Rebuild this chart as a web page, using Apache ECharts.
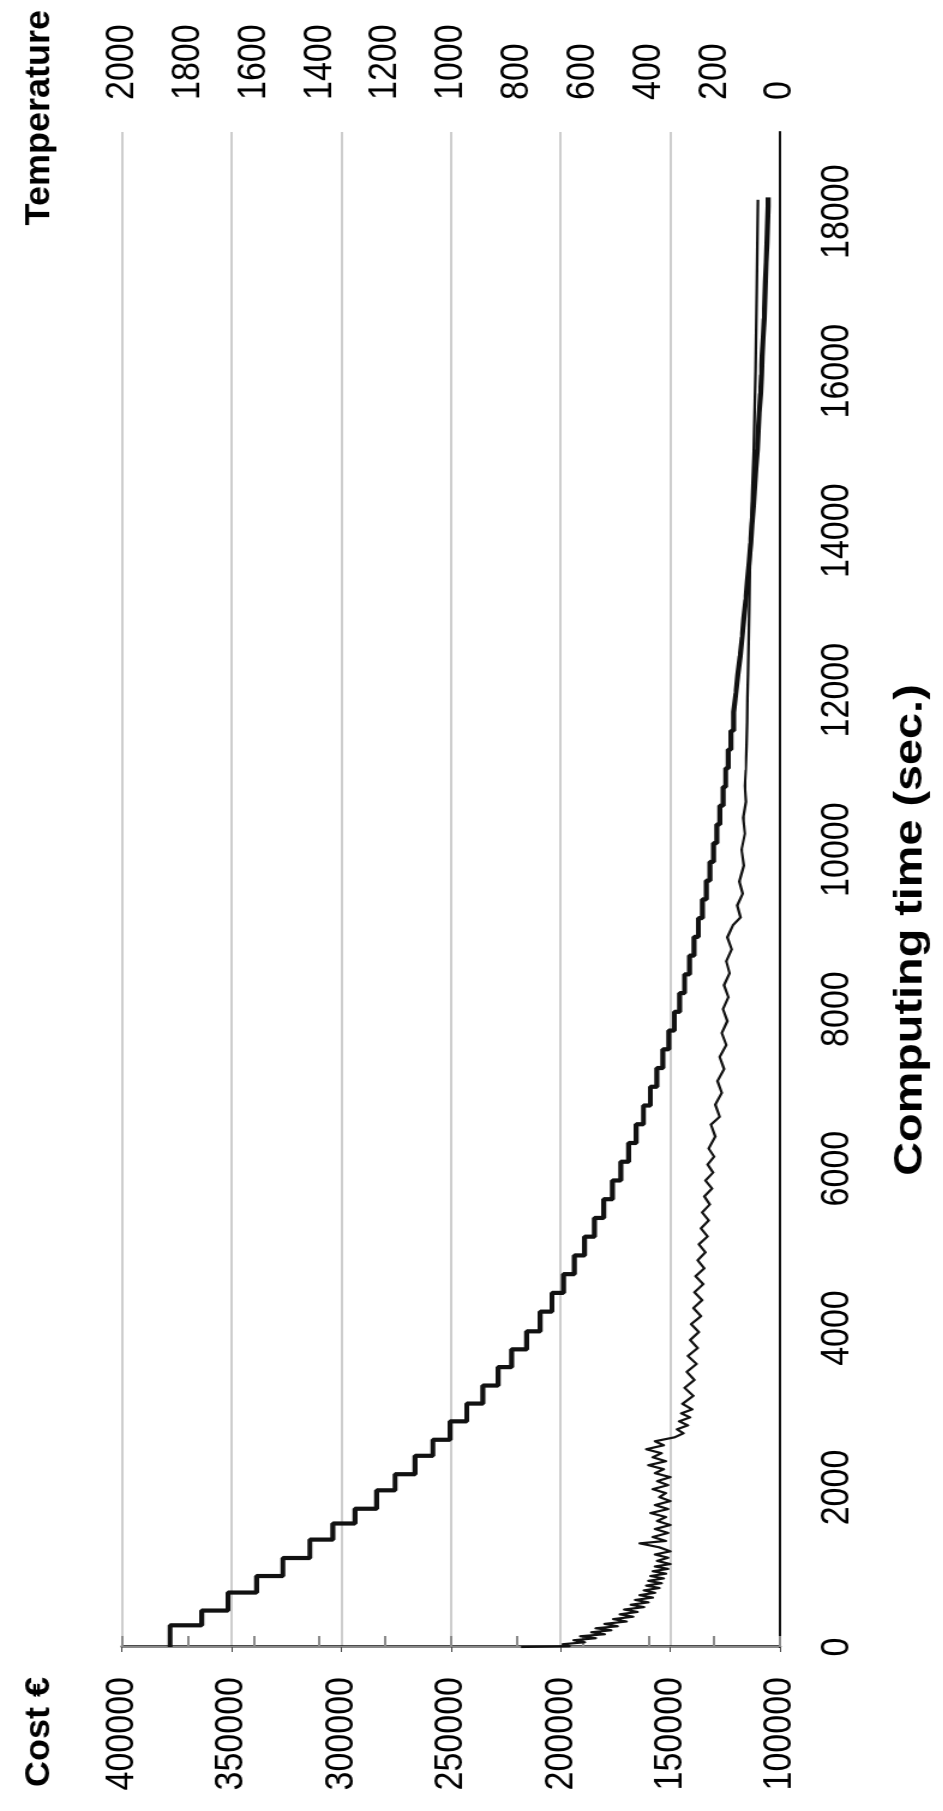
<!DOCTYPE html>
<html>
<head>
<meta charset="utf-8">
<script src="https://cdn.jsdelivr.net/npm/echarts@6/dist/echarts.min.js"></script>
<style>
html,body{margin:0;padding:0;background:#fff;width:943px;height:1811px;overflow:hidden;}
#chart{position:absolute;left:0;top:0;width:1811px;height:786px;transform-origin:0 0;transform:translate(0px,1811px) rotate(-90deg) scale(1,1.2);background:#fff;}
</style>
</head>
<body>
<div id="chart"></div>
<script>
// Temperature schedule: level start times (sec.) and temperatures
var tempTimes = [0,272,457,683,890,1116,1347,1549,1734,1965,2167,2398,2599,2830,3053,3279,3510,3733,3959,
  4206,4441,4676,4911,5146,5381,5616,5851,6086,6321,6556,6791,7026,7261,7496,7731,7966,8201,8436,8671,
  8906,9141,9376,9611,9846,10081,10316,10551,10786,11021,11256,11491,11726,11961,12196,12431,12666,12901,
  13136,13371,13606,13841,14076,14311,14546,14781,15016,15251,15486,15721,15956,16191,16426,16661,16896,
  17131,17366,17601,17836,18071,18180];
var tempValues = [1854,1758,1678,1591,1511,1429,1359,1292,1226,1170,1109,1055,1003,952,903,857,816,770,
  729,693,658,625,594,564,536,509,484,460,437,415,394,374,356,338,321,305,290,275,261,248,236,224,213,202,
  192,183,173,165,157,149,141,134,128,121,115,110,104,99,94,89,85,81,77,73,69,66,63,59,56,54,51,48,46,44,
  42,40,38,36,36];

// Cost (€) of the current solution
var costTimes = [0,10,35,60,85,110,135,160,185,210,235,260,290,320,350,380,410,440,470,500,530,560,590,620,
  650,680,710,740,770,800,830,860,890,920,950,980,1010,1040,1080,1120,1160,1200,1250,1300,1330,1380,1430,1480,
  1530,1580,1630,1680,1730,1780,1830,1880,1930,1980,2030,2080,2130,2180,2230,2280,2330,2380,2430,2480,2530,
  2580,2630,2680,2730,2780,2830,2880,2930,2980,3050,3150,3250,3350,3450,3550,3650,3750,3850,3950,4050,4150,
  4250,4350,4450,4550,4650,4750,4850,4950,5050,5150,5250,5350,5450,5550,5650,5750,5850,5950,6050,6150,6250,
  6400,6550,6650,6800,6950,7100,7250,7400,7550,7700,7850,8000,8150,8300,8450,8600,8750,8900,9050,9150,9300,
  9450,9600,9800,10000,10200,10400,10600,10800,11000,11300,11600,11900,12200,12600,13000,13500,14000,14500,
  15000,16000,17000,18150];
var costValues = [218000,196000,199000,189000,194000,184000,191000,180000,186000,177000,184000,174000,180000,
  170000,176000,167000,173000,165000,171000,162000,168000,160000,166000,158000,164000,157000,162000,155000,
  161000,154000,160000,153000,159000,152000,158000,151000,157000,150000,156000,151000,157000,150000,155000,
  164000,152000,158000,151000,157000,150000,156000,152000,159000,151000,157000,150000,155000,152000,158000,
  151000,156000,150000,157000,153000,160000,152000,158000,154000,161000,153000,157000,148000,144000,147000,
  142000,146000,141000,145000,140000,144500,139500,143500,139000,142500,138000,142000,137500,141000,137000,
  140500,136000,139500,135500,139000,135000,138500,134500,137500,134000,137000,133000,136000,132500,135500,
  132000,134500,131000,134000,130500,133000,130000,132500,129500,131500,127500,129500,126500,128500,125500,
  127500,124500,126500,124000,126000,123500,125500,123000,124500,122000,124000,121500,118000,119500,117000,
  118500,116500,117500,116000,116800,115500,116000,115600,115300,115000,114800,114600,114300,114000,113700,
  113200,112600,112000,111200,110600,110000];

var timeAxisMax = 19000;
var SY = 1.2; // vertical stretch of the drawing (applied by CSS)
var lab = "'Liberation Sans',Arial,sans-serif";

var tempData = tempTimes.map(function(t,i){return [t,tempValues[i]];});
var costData = costTimes.map(function(t,i){return [t,costValues[i]];});
function plain(v){return String(v);}

var chart = echarts.init(document.getElementById('chart'), null, {renderer:'canvas'});
chart.setOption({
  animation:false,
  backgroundColor:'#fff',
  grid:{left:164,right:132,top:101.7,bottom:136,containLabel:false},
  xAxis:{
    type:'value',min:0,max:timeAxisMax,interval:2000,
    axisLine:{show:true,onZero:false,lineStyle:{color:'#111',width:2.2}},
    axisTick:{show:false},
    axisLabel:{margin:31,fontFamily:lab,fontSize:34,color:'#000',showMaxLabel:false,formatter:plain},
    splitLine:{show:false}
  },
  yAxis:[{
    type:'value',min:100000,max:400000,interval:50000,position:'left',
    axisLine:{show:true,onZero:false,lineStyle:{color:'#111',width:2.5}},
    axisTick:{show:true,length:5,lineStyle:{color:'#444',width:1}},
    axisLabel:{margin:30,fontFamily:lab,fontSize:34,color:'#000',formatter:plain},
    splitLine:{show:true,lineStyle:{color:'#bdbdbd',width:1.7}}
  },{
    type:'value',min:0,max:2000,interval:200,position:'right',
    axisLine:{show:true,lineStyle:{color:'#8a8a8a',width:2}},
    axisTick:{show:true,length:11,inside:false,lineStyle:{color:'#8a8a8a',width:2}},
    axisLabel:{margin:32,fontFamily:lab,fontSize:34,color:'#000',formatter:plain},
    splitLine:{show:false}
  }],
  graphic:[
    {type:'text',x:24,y:18,scaleY:1/SY,style:{text:'Cost €',font:'bold 36px '+lab,fill:'#000',textAlign:'left',textVerticalAlign:'top'}},
    {type:'text',x:1801,y:18,scaleY:1/SY,style:{text:'Temperature',font:'bold 36px '+lab,fill:'#000',textAlign:'right',textVerticalAlign:'top'}},
    {type:'text',x:881,y:742,scaleX:1.17,scaleY:1/SY,style:{text:'Computing time (sec.)',font:'bold 40px '+lab,fill:'#000',textAlign:'center',textVerticalAlign:'top'}}
  ],
  series:[{
    name:'Temperature',type:'line',yAxisIndex:1,step:'end',data:tempData,
    showSymbol:false,symbol:'none',lineStyle:{color:'#111',width:4.2},z:3
  },{
    name:'Cost',type:'line',yAxisIndex:0,data:costData,sampling:null,
    showSymbol:false,symbol:'none',lineStyle:{color:'#111',width:2.2,join:'round'},z:4
  }]
});
</script>
</body>
</html>
